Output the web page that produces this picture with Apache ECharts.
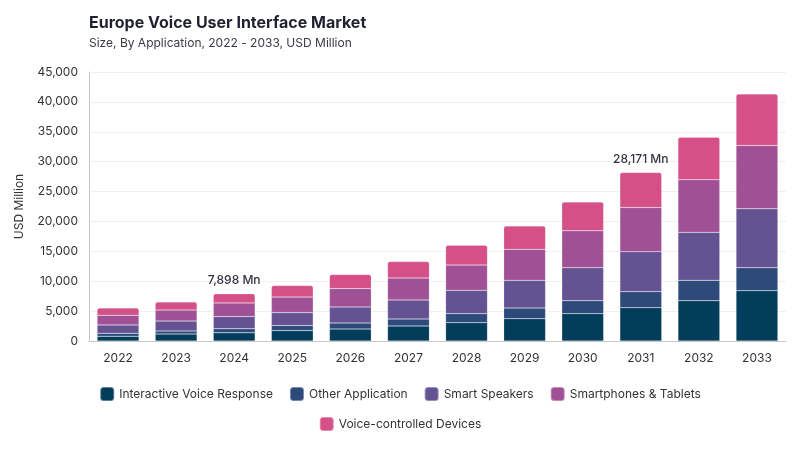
<!DOCTYPE html>
<html>
<head>
<meta charset="utf-8">
<script src="https://cdn.jsdelivr.net/npm/echarts@6/dist/echarts.min.js"></script>
<style>html,body{margin:0;padding:0;background:#fff;}#c{width:800px;height:450px;}</style>
</head>
<body>
<div id="c"></div>
<script>
const years = ['2022','2023','2024','2025','2026','2027','2028','2029','2030','2031','2032','2033'];
const ivr   = [790, 1170, 1360, 1740, 2010, 2510, 3060, 3730, 4570, 5570, 6740, 8410];
const other = [500,  500,  680,  840, 1000, 1170, 1510, 1790, 2170, 2680, 3410, 3850];
const smartSpeakers = [1390, 1670, 2050, 2170, 2680, 3180, 3910, 4630, 5520, 6690, 8030, 9870];
const smartphones   = [1620, 1840, 2280, 2610, 3080, 3680, 4230, 5190, 6190, 7390, 8800, 10590];
const voiceDevices  = [1220, 1340, 1528, 1910, 2340, 2740, 3300, 3900, 4800, 5841, 7090, 8580];
const labeledYears = ['2024', '2031'];
const yTicks = [0, 5000, 10000, 15000, 20000, 25000, 30000, 35000, 40000, 45000];

const names = ['Interactive Voice Response','Other Application','Smart Speakers','Smartphones & Tablets','Voice-controlled Devices'];
const colors = ['#023d5b','#2e4a7b','#655292','#a05195','#d45087'];
const seriesData = [ivr, other, smartSpeakers, smartphones, voiceDevices];
const FONT = 'Inter';

const chart = echarts.init(document.getElementById('c'));
const series = seriesData.map((d, i) => ({
  name: names[i],
  type: 'bar',
  stack: 'total',
  barWidth: '72%',
  data: d,
  itemStyle: {
    color: colors[i],
    borderColor: 'rgba(255,255,255,0.35)',
    borderWidth: 0.5,
    borderRadius: i === 4 ? [2,2,0,0] : 0
  },
  label: i === 4 ? {
    show: true,
    position: 'top',
    distance: 7,
    fontFamily: FONT,
    fontSize: 12,
    fontWeight: 500,
    color: '#33353f',
    formatter: p => {
      if (labeledYears.indexOf(p.name) < 0) return '';
      const idx = p.dataIndex;
      let s = 0;
      seriesData.forEach(arr => s += arr[idx]);
      return s.toLocaleString('en-US') + ' Mn';
    }
  } : {show: false}
}));

chart.setOption({
  backgroundColor: '#fff',
  title: {
    text: 'Europe Voice User Interface Market',
    subtext: 'Size, By Application, 2022 - 2033, USD Million',
    left: 84, top: 10,
    itemGap: 6,
    textStyle: {fontFamily: FONT, fontSize: 16, fontWeight: 'bold', color: '#1f2030'},
    subtextStyle: {fontFamily: FONT, fontSize: 12, color: '#3a3a44'}
  },
  legend: [
    {
      data: names.slice(0, 4),
      top: 381, left: 'center',
      icon: 'roundRect', itemWidth: 14, itemHeight: 14, itemGap: 16,
      textStyle: {fontFamily: FONT, fontSize: 12, color: '#333'}
    },
    {
      data: names.slice(4),
      top: 411, left: 'center',
      icon: 'roundRect', itemWidth: 14, itemHeight: 14,
      textStyle: {fontFamily: FONT, fontSize: 12, color: '#333'}
    }
  ],
  grid: {left: 89, right: 14, top: 72, bottom: 109},
  xAxis: {
    type: 'category',
    data: years,
    axisTick: {show: false},
    axisLine: {lineStyle: {color: '#c8c8c8'}},
    axisLabel: {fontFamily: FONT, fontSize: 12, color: '#333', margin: 11}
  },
  yAxis: {
    type: 'value',
    min: yTicks[0], max: yTicks[yTicks.length - 1], interval: 5000,
    name: 'USD Million',
    nameLocation: 'middle',
    nameGap: 64,
    nameTextStyle: {fontFamily: FONT, fontSize: 12, color: '#333'},
    axisLine: {show: true, lineStyle: {color: '#c8c8c8'}},
    axisTick: {show: false},
    splitLine: {lineStyle: {color: '#f0f0f0'}},
    axisLabel: {fontFamily: FONT, fontSize: 12, color: '#333', margin: 11,
      formatter: v => v.toLocaleString('en-US')}
  },
  series: series
});
</script>
</body>
</html>
